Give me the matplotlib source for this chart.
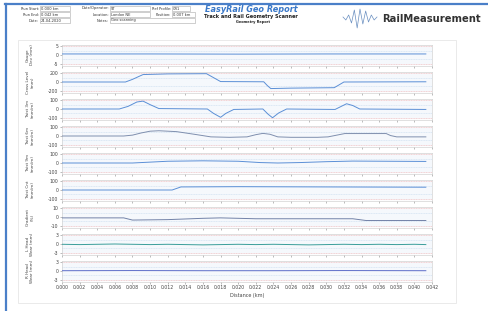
import matplotlib
matplotlib.use("Agg")
import matplotlib.pyplot as plt
from matplotlib.patches import Rectangle
from matplotlib.lines import Line2D
from matplotlib.ticker import FormatStrFormatter, MultipleLocator

W, H = 489, 311

# ---------------- data ----------------
panel_labels = ["Gauge\nDev (mm)", "Cross Level\n(mm)", "Twist 3m\n(mm/m)", "Twist 6m\n(mm/m)",
                "Twist 9m\n(mm/m)", "Twist Cnt\n(mm/m)", "Gradient\n(%)", "L Head\nWear (mm)", "R Head\nWear (mm)"]
panel_limits = [5, 200, 100, 100, 100, 100, 10, 3, 3]
panel_colors = ["#5b8fd6", "#5b8fd6", "#5b8fd6", "#7f8fae", "#5b8fd6", "#5b8fd6", "#7282a8", "#3a9e9a", "#5c6cc8"]

gauge_x = [0.0, 0.010, 0.020, 0.030, 0.0413]
gauge_y = [0.6, 0.6, 0.5, 0.6, 0.6]

cross_x = [0.0, 0.0072, 0.0080, 0.0092, 0.0120, 0.0164, 0.0172, 0.0180, 0.0229, 0.0233, 0.0237,
           0.0260, 0.0309, 0.0315, 0.0320, 0.0413]
cross_y = [0, 0, 60, 170, 185, 190, 100, 10, 5, -80, -150, -140, -130, -60, 0, 5]

twist1_x = [0, 0.0065, 0.0075, 0.0085, 0.0092, 0.0100, 0.0110, 0.0165, 0.0172, 0.0180, 0.0186,
            0.0195, 0.0228, 0.0234, 0.0239, 0.0246, 0.0255, 0.0310, 0.0317, 0.0323, 0.0330, 0.0338, 0.0413]
twist1_y = [0, 0, 30, 80, 90, 50, 5, 0, -50, -95, -50, -5, 0, -60, -100, -45, 0, -5, 30, 60, 40, 0, -5]

twist2_x = [0, 0.0070, 0.0080, 0.0090, 0.0100, 0.0110, 0.0130, 0.0150, 0.0169, 0.0190, 0.0210,
            0.0220, 0.0228, 0.0236, 0.0245, 0.0260, 0.0290, 0.0302, 0.0312, 0.0321, 0.0368, 0.0373,
            0.0380, 0.0413]
twist2_y = [0, 0, 10, 35, 55, 60, 50, 20, -10, -15, -10, 15, 30, 20, -10, -15, -15, -10, 10, 28,
            28, 5, -10, -10]

twist3_x = [0, 0.0080, 0.0100, 0.0120, 0.0160, 0.0200, 0.0225, 0.0245, 0.0270, 0.0300, 0.0330, 0.0370, 0.0413]
twist3_y = [0, 0, 10, 20, 25, 20, 5, 0, 5, 15, 22, 20, 18]

twist4_x = [0, 0.0125, 0.0135, 0.0200, 0.0300, 0.0413]
twist4_y = [0, 0, 35, 38, 35, 32]

grad_x = [0, 0.0070, 0.0080, 0.0120, 0.0160, 0.0180, 0.0220, 0.0330, 0.0345, 0.0413]
grad_y = [-1, -1, -3.5, -3, -1.5, -1, -2, -2, -4, -4]

lhead_x = [0, 0.002, 0.004, 0.006, 0.008, 0.010, 0.012, 0.014, 0.016, 0.018, 0.020,
           0.022, 0.024, 0.026, 0.028, 0.030, 0.032, 0.034, 0.036, 0.038, 0.040, 0.0413]
lhead_y = [-0.1, -0.2, -0.1, 0.0, -0.1, -0.2, -0.1, -0.2, -0.3, -0.2, -0.1,
           -0.2, -0.1, -0.2, -0.3, -0.2, -0.1, -0.2, -0.1, -0.2, -0.1, -0.2]

rhead_x = [0, 0.008, 0.016, 0.024, 0.032, 0.0413]
rhead_y = [0.1, 0.15, 0.1, 0.1, 0.15, 0.1]

series = [(gauge_x, gauge_y), (cross_x, cross_y), (twist1_x, twist1_y), (twist2_x, twist2_y),
          (twist3_x, twist3_y), (twist4_x, twist4_y), (grad_x, grad_y), (lhead_x, lhead_y),
          (rhead_x, rhead_y)]

x_max = 0.042
x_step = 0.002

header_left = [("Run Start:", "0.000 km"), ("Run End:", "0.042 km"), ("Date:", "24-04-2020")]
header_mid = [("Date/Operator:", "ST"), ("Location:", "London NE"), ("Notes:", "Geo scanning")]
header_right = [("Ref Profile:", "CR1"), ("Position:", "0.007 km")]

logo_amp = [0.1, -0.2, 0.3, -0.5, 0.8, -1.0, 0.9, -0.6, 0.7, -0.4, 0.3, -0.2, 0.1]

# ---------------- figure ----------------
fig = plt.figure(figsize=(W / 100, H / 100), dpi=100)
fig.patch.set_facecolor("white")


def fx(x):
    return x / W


def fy(y):
    return 1 - y / H


# page border (top and left)
fig.add_artist(Line2D([fx(5), fx(489)], [fy(3.5), fy(3.5)], color="#4a7fc8", lw=1.6))
fig.add_artist(Line2D([fx(5.5), fx(5.5)], [fy(3.5), fy(311)], color="#4a7fc8", lw=1.6))

# faint chart frame
fig.add_artist(Rectangle((fx(18), fy(303)), fx(456 - 18), (303 - 40) / H,
                         fill=False, edgecolor="#e2e2e2", lw=0.5))

# header boxes
fs_h = 2.6
rows_y = [8.5, 14.5, 20.5]


def box(label, value, lx, bx0, bx1, y):
    fig.text(fx(lx), fy(y), label, fontsize=fs_h, ha="right", va="center", color="#333333")
    fig.add_artist(Rectangle((fx(bx0), fy(y + 2.4)), fx(bx1 - bx0), 4.8 / H,
                             fill=False, edgecolor="#aaaaaa", lw=0.4))
    fig.text(fx(bx0 + 1), fy(y), value, fontsize=fs_h, ha="left", va="center", color="#333333")


for (lab, val), y in zip(header_left, rows_y):
    box(lab, val, 39, 40, 70, y)
for i, ((lab, val), y) in enumerate(zip(header_mid, rows_y)):
    box(lab, val, 109, 110, 195 if i == 2 else 150, y)
for i, ((lab, val), y) in enumerate(zip(header_right, rows_y)):
    box(lab, val, 171, 172, 190 if i == 0 else 195, y)

fig.text(fx(251), fy(10), "EasyRail Geo Report", fontsize=5.9, fontweight="bold", fontstyle="italic",
         color="#3a78c8", ha="center", va="center")
fig.text(fx(251), fy(16.5), "Track and Rail Geometry Scanner", fontsize=3.6, fontweight="bold",
         color="#222222", ha="center", va="center")
fig.text(fx(253), fy(22), "Geometry Report", fontsize=2.5, fontweight="bold",
         color="#222222", ha="center", va="center")

# logo waveform
n = len(logo_amp)
lx = [fx(343 + 34 * i / (n - 1)) for i in range(n)]
ly = [fy(18 - 10 * a) for a in logo_amp]
fig.add_artist(Line2D(lx, ly, color="#6a8fc0", lw=0.5))
fig.text(fx(382), fy(18.5), "RailMeasurement", fontsize=7.2, fontweight="bold", color="#333333",
         ha="left", va="center")

# panels
left_px, right_px = 62, 432
ph = 21.0
axes = []
for i in range(9):
    cy = 55 + 27.0 * i
    top = cy - ph / 2
    ax = fig.add_axes([fx(left_px), fy(top + ph), (right_px - left_px) / W, ph / H])
    axes.append(ax)
    lim = panel_limits[i]
    ax.set_xlim(0, x_max)
    ax.set_ylim(-1.2 * lim, 1.2 * lim)
    ax.set_facecolor("white")
    ax.axhspan(-lim, lim, color="#f5f8fc", zorder=0)
    for v in (lim, -lim):
        ax.axhline(v, color="#f2b5b5", lw=0.4, ls=(0, (2, 1)), zorder=1)
    for v in (0.5 * lim, -0.5 * lim):
        ax.axhline(v, color="#c9dcef", lw=0.4, ls=(0, (2, 1)), zorder=1)
    xs, ys = series[i]
    ax.plot(xs, ys, color=panel_colors[i], lw=0.7, zorder=3)
    ax.set_yticks([lim, 0, -lim])
    ax.set_yticklabels([str(lim), "0", str(-lim)])
    ax.xaxis.set_major_locator(MultipleLocator(x_step))
    ax.xaxis.set_major_formatter(FormatStrFormatter("%.3f"))
    ax.tick_params(axis="both", labelsize=3.3, length=1.5, width=0.4, colors="#888888",
                   labelcolor="#444444", pad=1)
    if i < 8:
        ax.tick_params(axis="x", labelbottom=False)
    for s in ax.spines.values():
        s.set_color("#c8c8c8")
        s.set_linewidth(0.4)
    fig.text(fx(30), fy(cy), panel_labels[i], fontsize=3.0, rotation=90, ha="center", va="center",
             color="#444444", multialignment="center", linespacing=1.1)

axes[-1].set_xlabel("Distance (km)", fontsize=3.5, color="#444444", labelpad=2)

fig.savefig("out.png", dpi=100)
